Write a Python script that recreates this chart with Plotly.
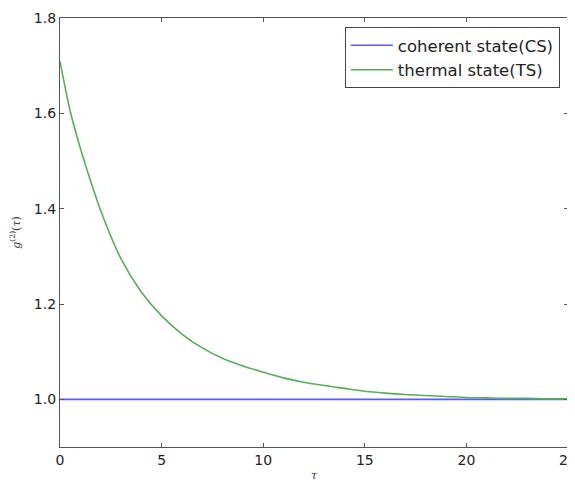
import plotly.graph_objects as go

tau = [0, 0.5, 1, 1.5, 2, 3, 4, 5, 6, 7, 8, 9, 10, 11, 12, 13, 14, 15, 16, 17,
       18, 19, 20, 21, 22, 23, 24, 25]
g2_thermal = [1.709, 1.605, 1.527, 1.459, 1.396, 1.295, 1.225, 1.175, 1.137,
              1.108, 1.086, 1.070, 1.057, 1.045, 1.036, 1.029, 1.023, 1.017,
              1.013, 1.010, 1.008, 1.006, 1.004, 1.003, 1.002, 1.002, 1.001,
              1.001]
g2_coherent = [1.0] * len(tau)

x_ticks = [0, 5, 10, 15, 20, 25]
y_ticks = [1.0, 1.2, 1.4, 1.6, 1.8]
y_tick_labels = ["1.0", "1.2", "1.4", "1.6", "1.8"]

fig = go.Figure()
fig.add_trace(go.Scatter(x=tau, y=g2_coherent, mode="lines",
                         name="coherent state(CS)",
                         line=dict(color="#5a5aff", width=1.6)))
fig.add_trace(go.Scatter(x=tau, y=g2_thermal, mode="lines",
                         name="thermal state(TS)",
                         line=dict(color="#55b055", width=1.6, shape="spline",
                                   smoothing=0.8)))

axis_common = dict(showgrid=False, zeroline=False, showline=True,
                   linecolor="#555555", linewidth=1.3, mirror="ticks",
                   ticks="inside", ticklen=4, tickcolor="#555555",
                   automargin=False, ticklabeloverflow="allow",
                   tickfont=dict(family="DejaVu Sans", size=14, color="#222222"))

fig.update_xaxes(range=[0, 25], tickvals=x_ticks, **axis_common,
                 title=dict(text="<i>τ</i>", font=dict(family="DejaVu Serif", size=11,
                                                      color="#333333"),
                            standoff=4))
fig.update_yaxes(range=[0.9, 1.8], tickvals=y_ticks, ticktext=y_tick_labels,
                 **axis_common,
                 title=dict(text="<i>g</i><sup>(2)</sup>(<i>τ</i>)",
                            font=dict(family="DejaVu Serif", size=11, color="#333333"),
                            standoff=15))

fig.update_layout(
    width=575, height=489,
    margin=dict(l=52, r=15, t=10, b=50),
    paper_bgcolor="white", plot_bgcolor="white",
    legend=dict(x=0.984, y=0.979, xanchor="right", yanchor="top",
                bgcolor="white", bordercolor="#444444", borderwidth=1,
                font=dict(family="DejaVu Sans", size=16.5, color="#222222"),
                itemwidth=42, tracegroupgap=0),
    showlegend=True,
)

fig.write_html("out.html")
